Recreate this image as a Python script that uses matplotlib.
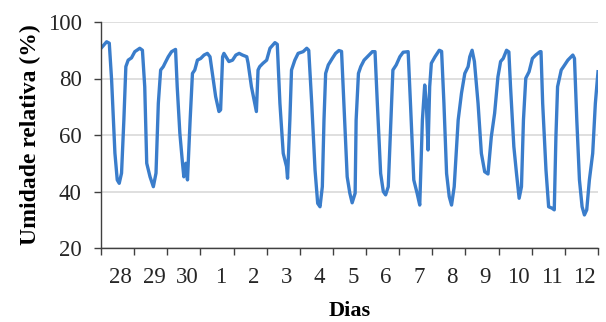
import numpy as np
import matplotlib.pyplot as plt

# day position (0 = start of the 28th) and relative humidity (%)
dias = [0.00, 0.17, 0.25, 0.32, 0.42, 0.49, 0.55, 0.62, 0.69, 0.75, 0.82, 0.92,
        1.02, 1.17, 1.25, 1.32, 1.38, 1.48, 1.58, 1.66, 1.73, 1.80, 1.88, 1.93,
        2.03, 2.13, 2.25, 2.30, 2.38, 2.46, 2.50, 2.56, 2.61, 2.69, 2.76, 2.83,
        2.91, 3.01, 3.11, 3.21, 3.29, 3.36, 3.46, 3.56, 3.61, 3.67, 3.71, 3.86,
        3.97, 4.07, 4.17, 4.27, 4.40, 4.44, 4.54, 4.62, 4.69, 4.74, 4.79, 4.89,
        5.00, 5.10, 5.25, 5.32, 5.40, 5.50, 5.60, 5.63, 5.70, 5.75, 5.85, 5.95,
        6.10, 6.21, 6.27, 6.36, 6.46, 6.54, 6.61, 6.68, 6.73, 6.78, 6.86, 6.98,
        7.08, 7.18, 7.26, 7.33, 7.43, 7.51, 7.58, 7.67, 7.70, 7.77, 7.84, 7.94,
        8.09, 8.19, 8.27, 8.34, 8.44, 8.52, 8.59, 8.67, 8.75, 8.81, 8.91, 9.02,
        9.12, 9.27, 9.34, 9.44, 9.54, 9.62, 9.70, 9.77, 9.82, 9.87, 9.92, 9.97,
        10.08, 10.21, 10.28, 10.35, 10.43, 10.51, 10.58, 10.66, 10.78, 10.88, 10.98, 11.08,
        11.13, 11.20, 11.27, 11.38, 11.48, 11.58, 11.68, 11.78, 11.88, 11.98, 12.06, 12.14,
        12.24, 12.31, 12.36, 12.46, 12.54, 12.62, 12.69, 12.75, 12.82, 12.92, 13.02, 13.12,
        13.25, 13.28, 13.33, 13.43, 13.51, 13.61, 13.68, 13.73, 13.78, 13.89, 13.96, 14.09,
        14.24, 14.29, 14.36, 14.44, 14.52, 14.59, 14.66, 14.74, 14.84, 14.92, 15.00]
umidade = [90.7, 93.0, 92.5, 79.5, 53.6, 44.1, 42.9, 46.5, 65.3, 84.2, 86.5, 87.3,
           89.5, 90.7, 90.0, 77.1, 50.0, 45.2, 41.7, 46.5, 71.2, 83.0, 84.2, 85.4,
           87.7, 89.5, 90.3, 77.1, 60.6, 50.0, 45.2, 50.0, 44.1, 65.3, 81.8, 83.0,
           86.5, 87.1, 88.3, 88.9, 87.7, 81.8, 73.6, 68.3, 68.9, 87.7, 88.9, 86.0,
           86.5, 88.3, 88.9, 88.3, 87.7, 85.4, 77.1, 72.4, 68.3, 83.0, 84.2, 85.4,
           86.5, 90.7, 92.7, 92.1, 71.2, 53.5, 48.8, 44.7, 65.3, 83.0, 86.5, 88.9,
           89.5, 90.7, 90.0, 71.2, 47.6, 35.8, 34.6, 41.7, 65.3, 81.8, 84.8, 87.1,
           88.9, 89.9, 89.6, 71.2, 45.2, 39.4, 36.0, 39.4, 65.3, 81.8, 84.2, 86.5,
           88.3, 89.5, 89.5, 71.2, 46.4, 40.0, 38.8, 41.7, 65.3, 83.0, 84.8, 87.7,
           89.3, 89.5, 71.2, 44.1, 39.4, 35.2, 65.3, 77.7, 71.2, 54.7, 77.1, 85.4,
           87.7, 90.0, 89.6, 71.2, 46.4, 38.2, 35.2, 41.7, 65.3, 74.8, 81.8, 84.2,
           87.7, 90.0, 86.0, 71.2, 53.5, 47.0, 46.2, 59.4, 67.7, 80.6, 86.0, 87.1,
           90.0, 89.4, 77.1, 55.9, 46.4, 37.6, 41.7, 65.3, 80.1, 82.4, 87.1, 88.3,
           89.5, 89.5, 71.2, 47.6, 34.6, 34.1, 33.5, 59.4, 77.1, 83.0, 84.2, 86.5,
           88.3, 87.1, 65.3, 44.1, 34.6, 31.7, 33.5, 44.1, 53.5, 71.2, 82.4]
rotulos = ['28', '29', '30', '1', '2', '3', '4', '5', '6', '7', '8', '9',
           '10', '11', '12']

plt.rcParams['font.family'] = ['Liberation Serif', 'DejaVu Serif']

fig = plt.figure(figsize=(6.06, 3.22), dpi=100)
ax = fig.add_axes([101 / 606, 1 - 248 / 322, 497 / 606, 226 / 322])

ax.plot(dias, umidade, color='#3a7dcb', lw=2.4, solid_joinstyle='round')

ax.set_xlim(0, 15)
ax.set_ylim(20, 100)
ax.set_yticks([20, 40, 60, 80, 100])
ax.set_xticks(np.arange(16))
ax.set_xticklabels([])
ax.set_xticks(np.arange(15) + 0.6, minor=True)
ax.set_xticklabels(rotulos, minor=True)

ax.grid(axis='y', color='#d9d9d9', lw=1.2)
ax.set_axisbelow(True)
for s in ['top', 'right']:
    ax.spines[s].set_visible(False)
for s in ['left', 'bottom']:
    ax.spines[s].set_color('#404040')
    ax.spines[s].set_linewidth(1.0)

ax.tick_params(axis='y', length=5, width=1, color='#404040', labelsize=16.5,
               pad=9, labelcolor='#262626')
ax.tick_params(axis='x', which='major', length=5, width=1, color='#404040')
ax.tick_params(axis='x', which='minor', length=0, labelsize=16.5, pad=14,
               labelcolor='#262626')

ax.set_ylabel('Umidade relativa (%)', fontsize=17, fontweight='bold', labelpad=5)
ax.set_xlabel('Dias', fontsize=16, fontweight='bold', labelpad=9)

plt.savefig('out.png', dpi=100)
